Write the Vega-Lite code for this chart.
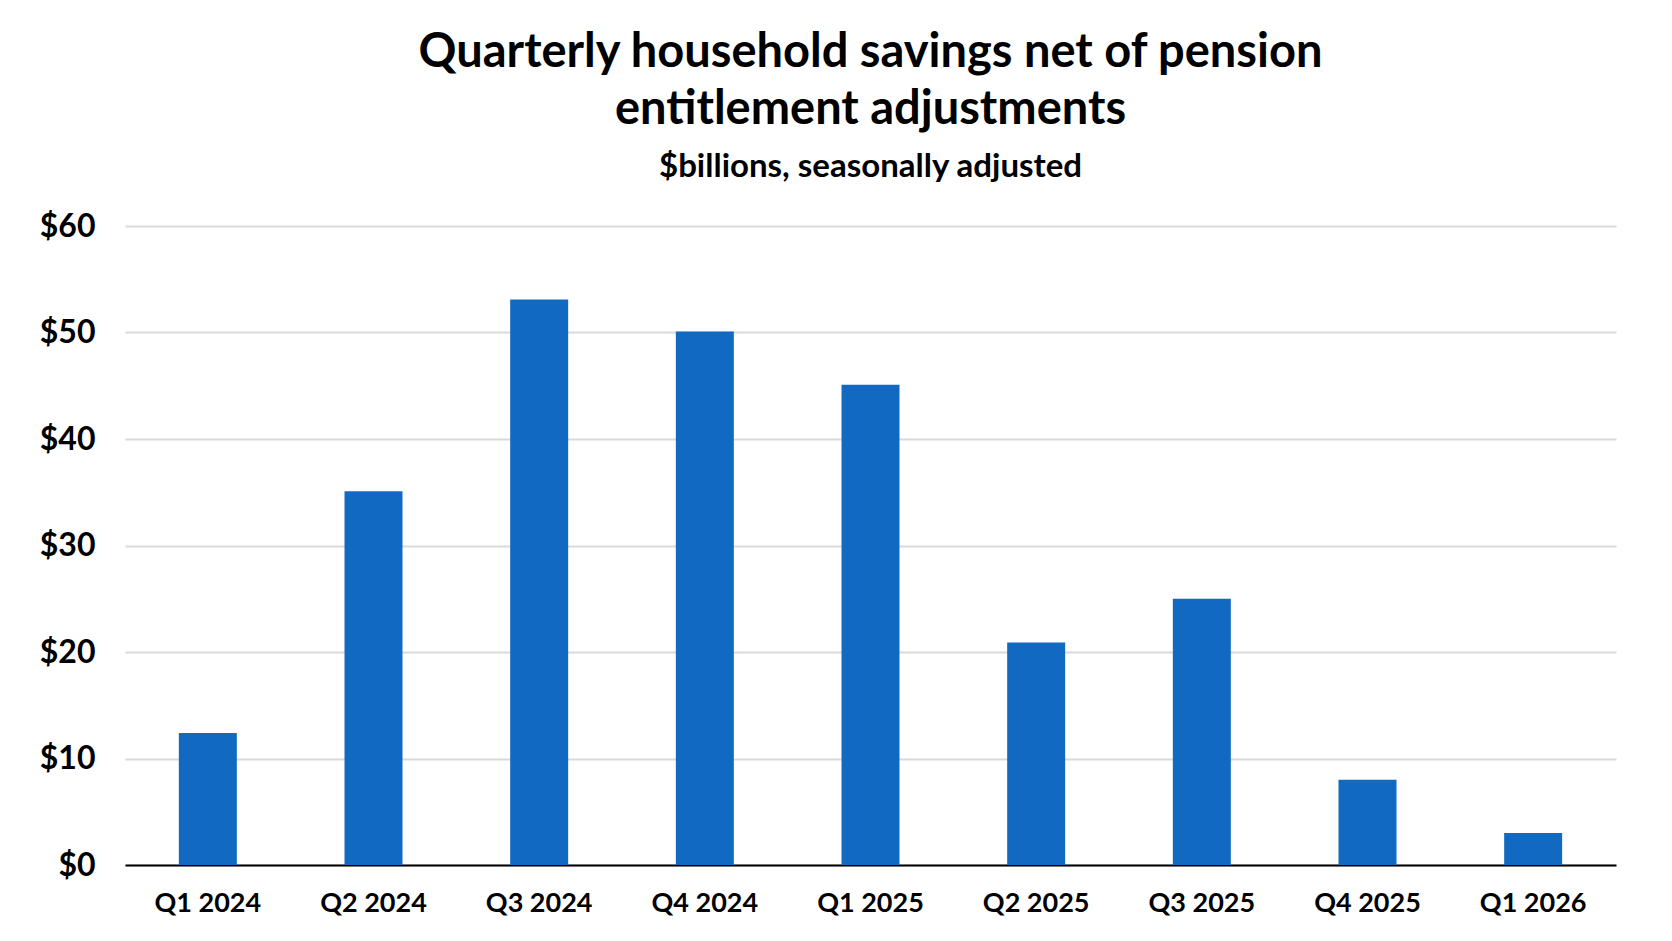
{
  "$schema": "https://vega.github.io/schema/vega-lite/v6.json",
  "autosize": {"type": "none"},
  "width": 1491,
  "height": 639,
  "padding": {"left": 125, "top": 226, "right": 56, "bottom": 76},
  "background": "white",
  "title": {
    "text": ["Quarterly household savings net of pension", "entitlement adjustments"],
    "subtitle": "$billions, seasonally adjusted",
    "anchor": "middle",
    "font": "Lato",
    "fontSize": 47,
    "fontWeight": "bold",
    "lineHeight": 57,
    "color": "black",
    "subtitleFont": "Lato",
    "subtitleFontSize": 33,
    "subtitleFontWeight": "bold",
    "subtitleColor": "black",
    "subtitlePadding": 17,
    "offset": 25
  },
  "data": {
    "values": [
      {"quarter": "Q1 2024", "savings": 12.4},
      {"quarter": "Q2 2024", "savings": 35.1},
      {"quarter": "Q3 2024", "savings": 53.1},
      {"quarter": "Q4 2024", "savings": 50.1},
      {"quarter": "Q1 2025", "savings": 45.1},
      {"quarter": "Q2 2025", "savings": 20.9},
      {"quarter": "Q3 2025", "savings": 25.0},
      {"quarter": "Q4 2025", "savings": 8.0},
      {"quarter": "Q1 2026", "savings": 3.0}
    ]
  },
  "mark": {"type": "bar", "color": "#1169c2"},
  "encoding": {
    "x": {
      "field": "quarter",
      "type": "ordinal",
      "sort": null,
      "scale": {"paddingInner": 0.65, "paddingOuter": 0.325},
      "axis": {
        "title": null,
        "labelAngle": 0,
        "labelFont": "Lato",
        "labelFontSize": 27,
        "labelFontWeight": "bold",
        "labelColor": "black",
        "labelPadding": 25,
        "ticks": false,
        "domainColor": "black",
        "domainWidth": 2
      }
    },
    "y": {
      "field": "savings",
      "type": "quantitative",
      "scale": {"domain": [0, 60]},
      "axis": {
        "title": null,
        "values": [0, 10, 20, 30, 40, 50, 60],
        "format": "$.0f",
        "labelFont": "Lato",
        "labelFontSize": 32,
        "labelFontWeight": "bold",
        "labelColor": "black",
        "labelPadding": 30,
        "ticks": false,
        "domain": false,
        "grid": true,
        "gridColor": "#d9d9d9",
        "gridWidth": 2
      }
    }
  },
  "config": {
    "view": {"stroke": null}
  }
}
